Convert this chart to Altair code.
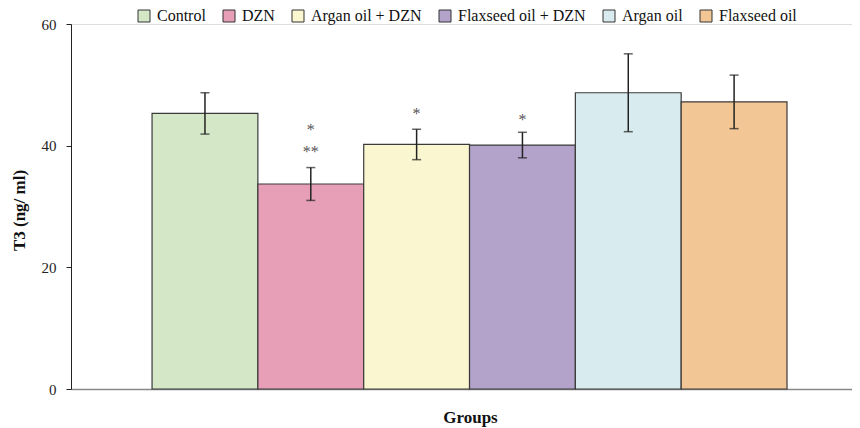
import altair as alt
import pandas as pd

groups = ["Control", "DZN", "Argan oil + DZN", "Flaxseed oil + DZN", "Argan oil", "Flaxseed oil"]
means = [45.3, 33.7, 40.2, 40.1, 48.7, 47.2]
errs = [3.4, 2.7, 2.5, 2.1, 6.4, 4.4]
colors = ["#d4e8c8", "#e79fb8", "#faf7d0", "#b3a2c9", "#d8ebee", "#f2c795"]

ann_group = ["DZN", "DZN", "Argan oil + DZN", "Flaxseed oil + DZN"]
ann_text = ["*", "**", "*", "*"]
ann_y = [42.6, 39.0, 45.2, 44.3]

df = pd.DataFrame({
    "group": groups,
    "mean": means,
    "lo": [m - e for m, e in zip(means, errs)],
    "hi": [m + e for m, e in zip(means, errs)],
})
ann = pd.DataFrame({"group": ann_group, "text": ann_text, "y": ann_y})

FONT = "Liberation Serif"

xenc = alt.X(
    "group:N",
    sort=groups,
    scale=alt.Scale(paddingInner=0, paddingOuter=0.69, align=0.555),
    axis=alt.Axis(
        title="Groups", labels=False, ticks=False, domainColor="#888888",
        domainWidth=1.5, titleFont=FONT, titleFontSize=17, titleFontWeight="bold",
        titleColor="#111111", titleY=33, titleBaseline="alphabetic", titleX=399,
        titleAlign="center",
    ),
)
yscale = alt.Scale(domain=[0, 60])

bars = alt.Chart(df).mark_bar(stroke="#3a3a3a", strokeWidth=1.2).encode(
    x=xenc,
    y=alt.Y(
        "mean:Q", scale=yscale,
        axis=alt.Axis(
            values=[0, 20, 40, 60], grid=False, title="T3 (ng/ ml)",
            domainColor="#222222", tickColor="#222222", tickSize=5,
            labelFont=FONT, labelFontSize=15, labelColor="#222222", labelPadding=10,
            titleFont=FONT, titleFontSize=17, titleFontWeight="bold", titleColor="#111111",
            titleX=-52, titleY=186, titleAngle=-90, titleBaseline="middle",
            titleAlign="center",
        ),
    ),
    fill=alt.Fill(
        "group:N", sort=groups,
        scale=alt.Scale(domain=groups, range=colors),
        legend=alt.Legend(
            title=None, orient="none", direction="horizontal", columns=6,
            legendX=65, legendY=-16, symbolType="square", symbolSize=144,
            symbolStrokeColor="#333333", symbolStrokeWidth=1,
            labelFont=FONT, labelFontSize=16, labelColor="#111111",
            columnPadding=15, labelOffset=5,
        ),
    ),
)

rule = alt.Chart(df).mark_rule(color="#222222", strokeWidth=1.5).encode(
    x=alt.X("group:N", sort=groups), y=alt.Y("lo:Q", scale=yscale), y2="hi:Q"
)
cap_lo = alt.Chart(df).mark_tick(color="#222222", size=9, thickness=1.5).encode(
    x=alt.X("group:N", sort=groups), y=alt.Y("lo:Q", scale=yscale)
)
cap_hi = alt.Chart(df).mark_tick(color="#222222", size=9, thickness=1.5).encode(
    x=alt.X("group:N", sort=groups), y=alt.Y("hi:Q", scale=yscale)
)
stars = alt.Chart(ann).mark_text(
    font=FONT, fontSize=16, color="#555555", baseline="middle"
).encode(
    x=alt.X("group:N", sort=groups), y=alt.Y("y:Q", scale=yscale), text="text:N"
)

chart = alt.layer(bars, rule, cap_lo, cap_hi, stars).properties(
    width=781, height=365,
    autosize=alt.AutoSizeParams(type="none"),
    padding={"left": 63, "top": 16, "right": 0, "bottom": 39},
).configure_view(stroke=None).configure(background="white")

chart.save("out.html", embed_options={"renderer": "svg", "actions": False})
